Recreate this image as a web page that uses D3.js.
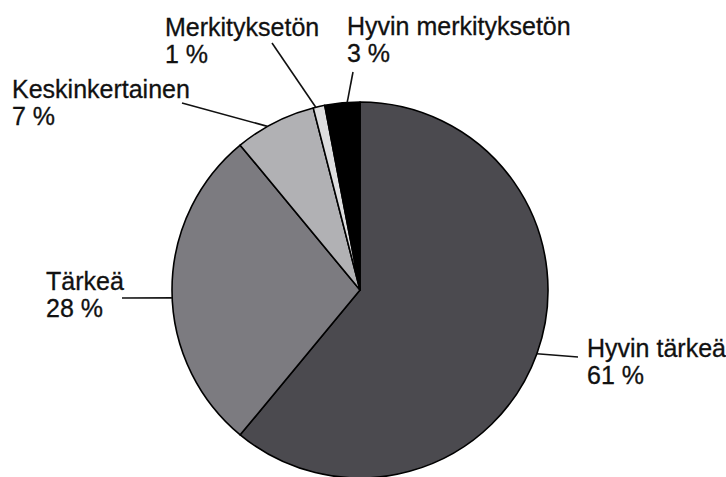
<!DOCTYPE html>
<html>
<head>
<meta charset="utf-8">
<script src="https://cdn.jsdelivr.net/npm/d3@7"></script>
<style>
  html, body { margin: 0; padding: 0; background: #fff; }
  svg { display: block; }
</style>
</head>
<body>
<svg id="chart"></svg>
<script>
// data, clockwise from 12 o'clock
const categories = ["Hyvin tärkeä", "Tärkeä", "Keskinkertainen", "Merkityksetön", "Hyvin merkityksetön"];
const percents = [61, 28, 7, 1, 3];
const fills = ["#4b4a4f", "#7c7b80", "#b1b1b4", "#dededf", "#000000"];

const width = 726;
const height = 477;
const cx = 360;
const cy = 290;
const radius = 188;

// label placement: text anchor, leader outer end, small angle nudge for where the leader meets the pie
const labelLayout = [
  { tx: 587, ty: 357, lx: 578, ly: 357, nudge: 0 },
  { tx: 46, ty: 290, lx: 122, ly: 298, nudge: -2.4 },
  { tx: 12, ty: 98, lx: 182, ly: 103, nudge: -2.5 },
  { tx: 165, ty: 36, lx: 272, ly: 43, nudge: -1 },
  { tx: 347, ty: 35, lx: 353, ly: 72, nudge: 1.5 },
];
const lineHeight = 27;

const svg = d3
  .select("#chart")
  .attr("width", width)
  .attr("height", height)
  .attr("viewBox", `0 0 ${width} ${height}`);

const slices = d3
  .pie()
  .sort(null)
  .value((d) => d)(percents);

const arc = d3.arc().innerRadius(0).outerRadius(radius);

const g = svg.append("g").attr("transform", `translate(${cx}, ${cy})`);

g.selectAll("path")
  .data(slices)
  .enter()
  .append("path")
  .attr("d", arc)
  .style("fill", (d, i) => fills[i])
  .style("stroke", "#000")
  .style("stroke-width", 1.6)
  .style("stroke-linejoin", "round");

// leader lines
svg
  .selectAll("line.leader")
  .data(slices)
  .enter()
  .append("line")
  .attr("class", "leader")
  .attr("x1", (d, i) => labelLayout[i].lx)
  .attr("y1", (d, i) => labelLayout[i].ly)
  .attr("x2", (d, i) => {
    const a = (d.startAngle + d.endAngle) / 2 + (labelLayout[i].nudge * Math.PI) / 180;
    return cx + radius * Math.sin(a);
  })
  .attr("y2", (d, i) => {
    const a = (d.startAngle + d.endAngle) / 2 + (labelLayout[i].nudge * Math.PI) / 180;
    return cy - radius * Math.cos(a);
  })
  .style("stroke", "#111")
  .style("stroke-width", 1.6);

// labels
const labels = svg
  .selectAll("text.label")
  .data(slices)
  .enter()
  .append("text")
  .attr("class", "label")
  .attr("x", (d, i) => labelLayout[i].tx)
  .attr("y", (d, i) => labelLayout[i].ty)
  .style("font-family", "'Liberation Sans', Arial, Helvetica, sans-serif")
  .style("font-size", "25px")
  .style("fill", "#111")
  .style("stroke", "#111")
  .style("stroke-width", 0.3);

labels
  .append("tspan")
  .attr("x", (d, i) => labelLayout[i].tx)
  .text((d, i) => categories[i]);

labels
  .append("tspan")
  .attr("x", (d, i) => labelLayout[i].tx)
  .attr("dy", lineHeight)
  .text((d) => `${d.data} %`);
</script>
</body>
</html>
